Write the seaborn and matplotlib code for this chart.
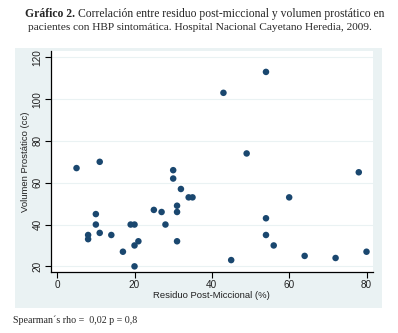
import matplotlib
matplotlib.use("Agg")
import matplotlib.pyplot as plt
import matplotlib.patches as mpatches
import seaborn as sns
import pandas as pd

sns.set_style("white")
plt.rcParams['font.family'] = ['Liberation Sans', 'DejaVu Sans']

# Datos
residuo = [5, 11, 10, 10, 8, 8, 11, 14, 17, 19, 20, 21, 20, 20, 25,
           27, 28, 30, 30, 32, 34, 35, 31, 31, 31, 45, 49,
           78, 60, 54, 54, 56, 64, 72, 80, 54, 43]
volumen = [67, 70, 45, 40, 35, 33, 36, 35, 27, 40, 40, 32, 30, 20, 47,
           46, 40, 66, 62, 57, 53, 53, 49, 46, 32, 23, 74,
           65, 53, 43, 35, 30, 25, 24, 27, 113, 103]
xticks = [0, 20, 40, 60, 80]
yticks = [20, 40, 60, 80, 100, 120]

df = pd.DataFrame({'residuo': residuo, 'volumen': volumen})

W, H = 398, 333
fig = plt.figure(figsize=(W / 100, H / 100), dpi=100)
fig.patch.set_facecolor('white')

# panel de fondo estilo Stata
panel = mpatches.Rectangle((15 / W, 1 - 308 / H), (382 - 15) / W, (308 - 48) / H,
                           transform=fig.transFigure, facecolor='#EAF2F3',
                           edgecolor='none', zorder=-10)
fig.add_artist(panel)

ax = fig.add_axes([51 / W, 1 - 272 / H, (372.7 - 51) / W, (272 - 51) / H])
ax.set_zorder(5)
ax.set_facecolor('white')
sns.scatterplot(data=df, x='residuo', y='volumen', ax=ax, color='#1A476F',
                s=22, edgecolor='none', zorder=3)

ax.set_xlim(-1.6, 81.6)
ax.set_ylim(17.3, 123)
ax.set_xticks(xticks)
ax.set_yticks(yticks)
ax.set_yticklabels([str(t) for t in yticks], rotation=90, va='center')
ax.grid(axis='y', color='#EAF2F3', linewidth=0.8, zorder=0)
ax.grid(axis='x', visible=False)
for s in ['top', 'right']:
    ax.spines[s].set_visible(False)
for s in ['left', 'bottom']:
    ax.spines[s].set_color('black')
    ax.spines[s].set_linewidth(0.9)
ax.tick_params(axis='both', direction='out', length=4, width=0.8, color='black',
               labelsize=7.2, pad=2, left=True, bottom=True, labelcolor='#222222')
ax.set_xlabel('Residuo Post-Miccional (%)', fontsize=6.8, labelpad=0.5, color='#222222')
ax.set_ylabel('Volumen Prostático (cc)', fontsize=6.8, labelpad=2, color='#222222')

# título en dos líneas, con "Gráfico 2." en negrita
serif = ['Liberation Serif', 'DejaVu Serif']
fig.canvas.draw()
r = fig.canvas.get_renderer()
t1 = fig.text(25 / W, 1 - 14 / H, 'Gráfico 2.', fontsize=8.4, fontweight='bold',
              family=serif, va='center', ha='left')
bb = t1.get_window_extent(renderer=r)
fig.text((bb.x1 + 3) / W, 1 - 14 / H,
         'Correlación entre residuo post-miccional y volumen prostático en',
         fontsize=8.4, family=serif, va='center', ha='left')
fig.text(199.5 / W, 1 - 28 / H,
         'pacientes con HBP sintomática. Hospital Nacional Cayetano Heredia, 2009.',
         fontsize=8.2, family=serif, va='center', ha='center')

fig.text(13 / W, 1 - 320 / H, 'Spearman´s rho =  0,02 p = 0,8', fontsize=7.2,
         family=serif, va='center', ha='left')

fig.savefig('out.png', dpi=100)
